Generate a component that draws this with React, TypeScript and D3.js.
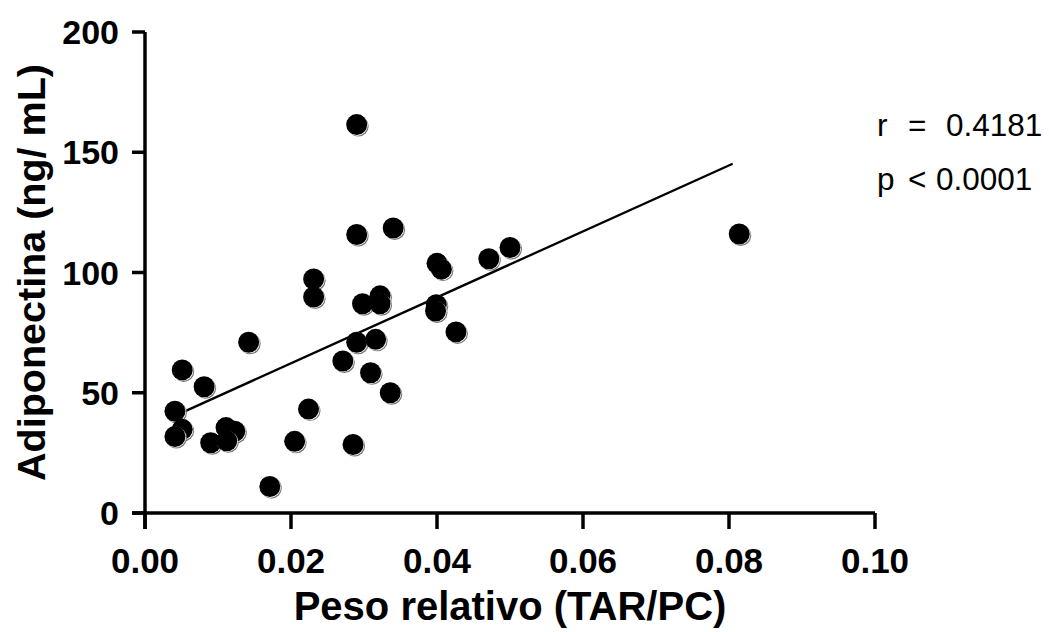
import * as d3 from "d3";

const pesoRelativo = [
  0.0290, 0.0290, 0.0340, 0.0231, 0.0231, 0.0298, 0.0322, 0.0322, 0.0400, 0.0406,
  0.0471, 0.0500, 0.0814, 0.0399, 0.0398, 0.0426, 0.0290, 0.0316, 0.0271, 0.0309,
  0.0336, 0.0142, 0.0051, 0.0081, 0.0041, 0.0051, 0.0041, 0.0090, 0.0111, 0.0123,
  0.0112, 0.0205, 0.0224, 0.0285, 0.0171,
];
const adiponectina = [
  161.5, 115.8, 118.5, 97.3, 89.8, 87.0, 90.3, 87.0, 103.8, 101.4,
  105.7, 110.4, 116.0, 86.6, 84.0, 75.3, 71.0, 72.2, 63.2, 58.3,
  50.0, 71.0, 59.5, 52.5, 42.3, 34.8, 31.8, 29.2, 35.5, 34.0,
  30.0, 29.8, 43.2, 28.5, 11.0,
];
const fitX = [0.004, 0.0805];
const fitY = [40.3, 145.2];

const xTicks = [0, 0.02, 0.04, 0.06, 0.08, 0.1];
const yTicks = [0, 50, 100, 150, 200];
const xTitle = "Peso relativo (TAR/PC)";
const yTitle = "Adiponectina (ng/ mL)";

export default function App() {
  const width = 1049;
  const height = 632;
  const left = 145;
  const right = 875;
  const top = 32;
  const bottom = 513;
  const x = d3.scaleLinear([0, 0.1], [left, right]);
  const y = d3.scaleLinear([0, 200], [bottom, top]);
  const line = d3.line<number>((d, i) => x(fitX[i]), (d) => y(d));
  const font = "'Liberation Sans', Arial, sans-serif";
  const pts = pesoRelativo.map((v, i) => [v, adiponectina[i]]);

  return (
    <svg
      width={width}
      height={height}
      style={{ position: "absolute", left: 0, top: 0, background: "#fff" }}
      fontFamily={font}
    >
      {/* axes */}
      <g stroke="#000" strokeWidth={3.5} fill="none">
        <line x1={left} x2={left} y1={y(200)} y2={bottom + 16} />
        <line x1={left - 13} x2={right} y1={bottom} y2={bottom} />
        {yTicks.map((t) => (
          <line key={t} x1={left - 13} x2={left} y1={y(t)} y2={y(t)} />
        ))}
        {xTicks.map((t) => (
          <line key={t} x1={x(t)} x2={x(t)} y1={bottom} y2={bottom + 16} />
        ))}
      </g>
      <g fontWeight="bold" fontSize={34} fill="#000">
        {yTicks.map((t) => (
          <text key={t} x={left - 26} y={y(t)} dy="0.36em" textAnchor="end">
            {t}
          </text>
        ))}
      </g>
      <g fontWeight="bold" fontSize={35} fill="#000">
        {xTicks.map((t) => (
          <text key={t} x={x(t)} y={573} textAnchor="middle">
            {d3.format(".2f")(t)}
          </text>
        ))}
      </g>
      <text
        x={(left + right) / 2}
        y={620}
        textAnchor="middle"
        fontWeight="bold"
        fontSize={40}
      >
        {xTitle}
      </text>
      <text
        transform={`translate(45,${(top + bottom) / 2}) rotate(-90)`}
        textAnchor="middle"
        fontWeight="bold"
        fontSize={39.5}
      >
        {yTitle}
      </text>

      {/* regression line */}
      <path d={line(fitY) ?? ""} stroke="#000" strokeWidth={2.3} fill="none" />

      {/* points */}
      {pts.map(([a, b], i) => (
        <g key={i}>
          <circle cx={x(a) + 1.5} cy={y(b) + 1.5} r={10.5} fill="#777" />
          <circle cx={x(a) + 0.6} cy={y(b) + 0.6} r={10.5} fill="#fff" />
          <circle cx={x(a)} cy={y(b)} r={10.5} fill="#000" />
        </g>
      ))}

      {/* statistics */}
      <g fontSize={31.5} fill="#000">
        <text x={877} y={136}>r</text>
        <text x={908} y={136}>=</text>
        <text x={946} y={136}>0.4181</text>
        <text x={877} y={190}>p</text>
        <text x={908} y={190}>&lt;</text>
        <text x={936} y={190}>0.0001</text>
      </g>
    </svg>
  );
}
